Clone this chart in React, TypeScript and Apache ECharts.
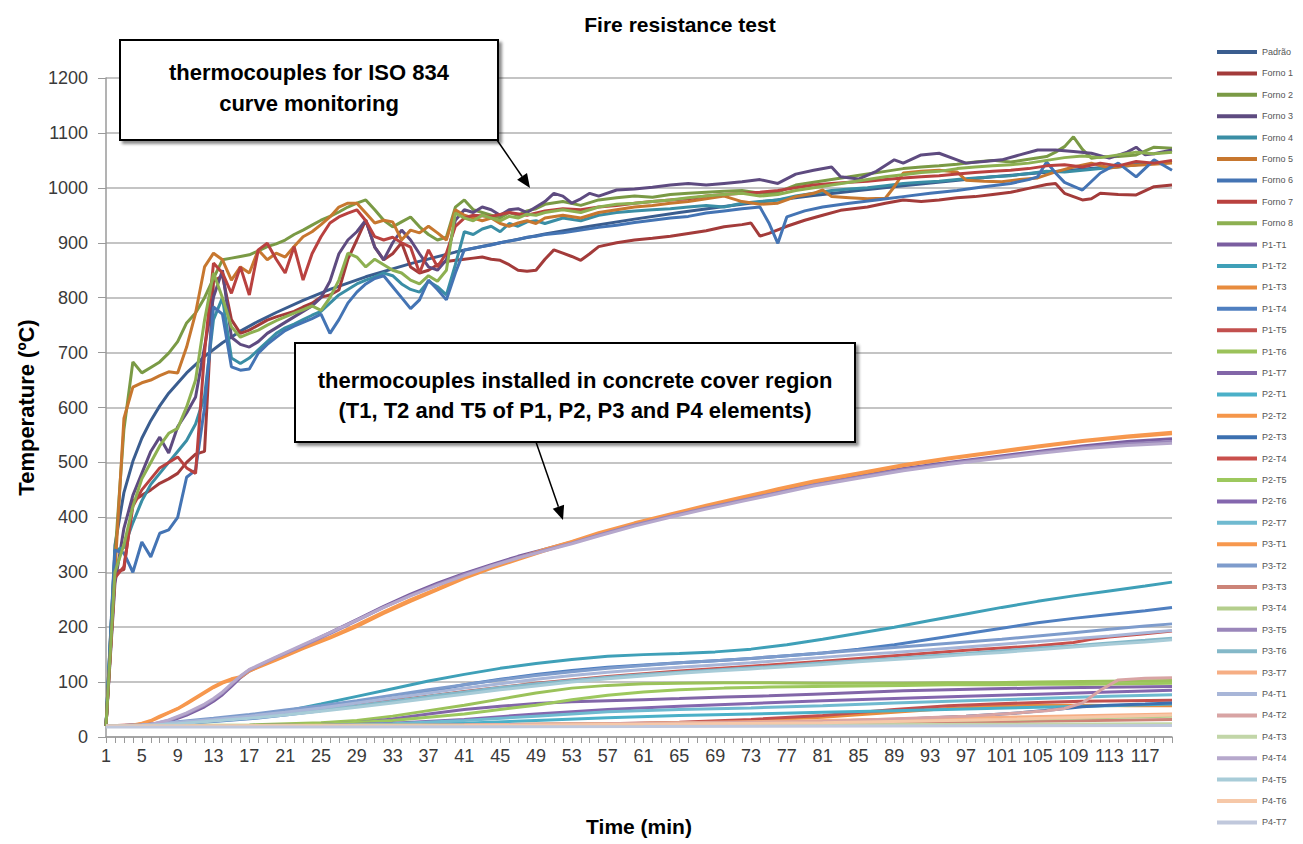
import React, { useEffect, useRef } from "react";
import * as echarts from "echarts";

type P = [number, number][];

const categories: string[] = Array.from({ length: 120 }, (_, i) => String(i + 1));

// Furnace thermocouples
const padrao: P = [[1,20],[2,349],[3,445],[4,502],[5,544],[6,576],[7,603],[8,626],[10,663],[12,693],[14,718],[16,739],[18,757],[20,773],[23,795],[26,815],[30,838],[35,862],[40,883],[45,900],[50,916],[55,930],[60,943],[65,955],[70,966],[75,976],[80,986],[85,995],[90,1004],[95,1012],[100,1020],[105,1027],[110,1034],[115,1041],[120,1047]];
const forno1: P = [[1,20],[2,300],[3,305],[4,430],[5,440],[6,450],[7,462],[8,470],[9,480],[10,500],[11,515],[12,520],[13,830],[14,840],[15,760],[16,735],[17,741],[18,750],[19,759],[20,765],[21,770],[22,775],[23,783],[24,790],[25,801],[26,805],[27,814],[28,870],[29,905],[30,941],[31,892],[32,869],[33,880],[34,900],[35,856],[36,845],[37,850],[38,860],[39,866],[40,868],[41,870],[42,872],[43,874],[44,870],[45,868],[46,860],[47,850],[48,848],[49,850],[50,870],[51,887],[52,881],[53,875],[54,868],[55,880],[56,893],[58,900],[60,905],[62,908],[64,912],[66,917],[68,922],[70,929],[72,933],[73,936],[74,912],[75,917],[77,930],[79,941],[81,950],[83,959],[86,965],[88,972],[90,978],[92,975],[94,978],[96,982],[98,984],[100,988],[102,992],[104,999],[106,1006],[107,1008],[108,990],[109,984],[110,978],[111,980],[112,990],[114,988],[116,987],[118,1002],[120,1005]];
const forno2: P = [[1,20],[2,330],[3,560],[4,683],[5,663],[6,673],[7,683],[8,699],[9,720],[10,754],[11,772],[12,800],[13,835],[14,869],[15,872],[16,875],[17,878],[18,885],[19,893],[20,898],[21,905],[22,915],[23,923],[24,932],[25,941],[26,948],[27,956],[28,965],[29,972],[30,978],[31,960],[32,941],[33,929],[34,938],[35,947],[36,929],[37,915],[38,905],[39,910],[40,965],[41,978],[42,960],[43,955],[44,950],[45,945],[46,955],[47,950],[48,958],[49,962],[50,970],[52,975],[54,968],[56,978],[58,982],[60,985],[62,983],[64,988],[66,990],[68,992],[70,994],[72,995],[74,990],[76,992],[78,1005],[80,1010],[82,1015],[84,1020],[86,1025],[88,1030],[90,1035],[92,1038],[94,1040],[96,1043],[98,1047],[100,1050],[102,1047],[104,1052],[106,1057],[107,1065],[108,1075],[109,1093],[110,1070],[111,1054],[112,1056],[114,1057],[116,1060],[118,1074],[120,1072]];
const forno3: P = [[1,20],[2,280],[3,380],[4,440],[5,480],[6,520],[7,546],[8,517],[9,565],[10,590],[11,619],[12,710],[13,801],[14,850],[15,728],[16,715],[17,710],[18,720],[19,735],[20,745],[21,755],[22,765],[23,775],[24,785],[25,800],[26,830],[27,880],[28,905],[29,920],[30,941],[31,892],[32,869],[33,900],[34,923],[35,905],[36,880],[37,856],[38,850],[39,869],[40,941],[41,960],[42,955],[43,965],[44,960],[45,950],[46,960],[47,962],[48,955],[49,965],[50,975],[51,990],[52,985],[53,972],[54,980],[55,990],[56,985],[58,996],[60,998],[62,1001],[64,1005],[66,1008],[68,1005],[70,1008],[72,1011],[74,1015],[76,1008],[78,1025],[80,1032],[82,1038],[83,1020],[85,1016],[87,1030],[89,1051],[90,1045],[92,1060],[94,1063],[96,1051],[97,1045],[99,1048],[101,1051],[103,1060],[105,1069],[107,1069],[109,1066],[111,1063],[113,1054],[115,1065],[116,1074],[117,1060],[118,1062],[120,1069]];
const forno4: P = [[1,20],[2,340],[3,345],[4,390],[5,430],[6,460],[7,480],[8,500],[9,520],[10,540],[11,570],[12,620],[13,760],[14,800],[15,690],[16,680],[17,690],[18,705],[19,720],[20,735],[21,745],[22,752],[23,760],[24,768],[25,775],[26,790],[27,805],[28,815],[29,825],[30,832],[31,838],[32,845],[33,840],[34,825],[35,815],[36,810],[37,830],[38,820],[39,805],[40,860],[41,920],[42,915],[43,925],[44,930],[45,920],[46,935],[47,930],[48,938],[49,940],[50,935],[52,945],[54,940],[56,950],[58,955],[60,958],[62,960],[64,962],[66,965],[68,968],[70,965],[72,972],[74,975],[76,978],[78,985],[80,990],[82,995],[84,998],[86,1000],[88,1004],[90,1008],[92,1010],[94,1012],[96,1015],[98,1018],[100,1020],[102,1022],[104,1026],[106,1030],[108,1029],[110,1032],[112,1035],[114,1038],[116,1042],[118,1045],[120,1047]];
const forno5: P = [[1,20],[2,300],[3,580],[4,637],[5,645],[6,650],[7,658],[8,665],[9,663],[10,710],[11,772],[12,856],[13,881],[14,869],[15,832],[16,856],[17,845],[18,887],[19,869],[20,881],[21,874],[22,893],[23,911],[24,920],[25,933],[26,947],[27,965],[28,972],[29,972],[30,954],[31,936],[32,941],[33,938],[34,905],[35,923],[36,918],[37,930],[38,918],[39,905],[40,960],[41,950],[42,945],[43,940],[44,945],[45,935],[46,930],[47,936],[48,940],[49,935],[50,945],[52,950],[54,945],[56,955],[58,960],[60,965],[62,968],[64,972],[66,975],[68,980],[70,985],[72,975],[74,970],[76,972],[78,984],[80,990],[81,996],[82,984],[84,982],[86,980],[88,981],[89,1002],[90,1027],[92,1030],[94,1032],[96,1029],[97,1014],[99,1012],[101,1011],[103,1015],[105,1018],[107,1029],[109,1038],[111,1045],[113,1036],[115,1040],[117,1042],[120,1045]];
const forno6: P = [[1,20],[2,340],[3,335],[4,300],[5,355],[6,328],[7,371],[8,377],[9,400],[10,473],[11,486],[12,600],[13,783],[14,770],[15,674],[16,668],[17,670],[18,699],[19,715],[20,728],[21,740],[22,748],[23,755],[24,762],[25,770],[26,735],[27,760],[28,790],[29,810],[30,825],[31,835],[32,840],[33,820],[34,800],[35,780],[36,796],[37,832],[38,815],[39,796],[40,845],[41,887],[42,890],[43,893],[44,896],[45,900],[46,903],[47,906],[48,910],[49,912],[50,915],[52,918],[54,923],[56,928],[58,932],[60,937],[62,941],[64,945],[66,948],[68,954],[70,958],[72,962],[74,965],[75,936],[76,899],[77,947],[79,958],[81,965],[84,972],[87,978],[90,984],[93,990],[96,995],[99,1002],[102,1008],[104,1015],[105,1020],[106,1047],[107,1027],[108,1010],[110,996],[112,1027],[114,1045],[116,1020],[118,1051],[120,1032]];
const forno7: P = [[1,20],[2,290],[3,310],[4,420],[5,450],[6,470],[7,490],[8,500],[9,510],[10,490],[11,480],[12,700],[13,863],[14,845],[15,808],[16,856],[17,805],[18,887],[19,899],[20,870],[21,845],[22,893],[23,832],[24,880],[25,911],[26,936],[27,947],[28,954],[29,960],[30,940],[31,911],[32,905],[33,910],[34,900],[35,892],[36,845],[37,887],[38,856],[39,881],[40,930],[41,945],[42,950],[44,948],[46,955],[48,950],[50,958],[52,962],[54,960],[56,965],[58,968],[60,972],[62,975],[64,978],[66,980],[68,985],[70,988],[72,990],[74,992],[76,995],[78,1000],[80,1005],[82,1008],[84,1010],[86,1012],[88,1015],[90,1018],[92,1020],[94,1022],[96,1025],[98,1028],[100,1030],[102,1032],[104,1035],[106,1040],[108,1042],[110,1038],[112,1045],[114,1040],[116,1048],[118,1045],[120,1050]];
const forno8: P = [[1,20],[2,300],[3,350],[4,420],[5,470],[6,500],[7,530],[8,553],[9,562],[10,601],[11,650],[12,759],[13,845],[14,800],[15,747],[16,728],[17,735],[18,741],[19,750],[20,758],[21,765],[22,772],[23,778],[24,785],[25,777],[26,800],[27,832],[28,881],[29,874],[30,856],[31,870],[32,860],[33,850],[34,845],[35,832],[36,825],[37,840],[38,830],[39,850],[40,954],[41,945],[42,940],[43,950],[44,945],[45,940],[46,948],[47,945],[48,952],[49,950],[50,955],[52,960],[54,955],[56,965],[58,970],[60,972],[62,975],[64,978],[66,982],[68,985],[70,988],[72,990],[74,985],[76,988],[78,995],[80,1000],[82,1005],[84,1010],[86,1015],[88,1020],[90,1024],[92,1028],[94,1030],[96,1035],[98,1038],[100,1040],[102,1042],[104,1045],[106,1050],[108,1055],[110,1058],[112,1055],[114,1060],[116,1065],[118,1062],[120,1065]];

// Element thermocouples
const p1t1: P = [[1,20],[4,20],[6,22],[8,28],[10,40],[12,55],[13,65],[14,77],[15,92],[16,108],[17,120],[20,144],[23,167],[26,190],[29,214],[32,238],[35,260],[38,280],[41,298],[44,314],[47,329],[50,342],[53,355],[56,370],[60,387],[64,403],[68,418],[72,432],[76,446],[80,460],[85,475],[90,489],[95,500],[100,510],[105,520],[110,530],[115,538],[120,543]];
const p1t2: P = [[1,20],[5,22],[9,26],[13,31],[17,38],[21,47],[25,60],[29,74],[33,88],[37,102],[41,114],[45,125],[49,134],[53,141],[57,147],[61,150],[65,152],[69,155],[73,160],[77,168],[81,178],[85,189],[89,200],[93,212],[97,224],[101,236],[105,247],[109,257],[113,266],[117,275],[120,282]];
const p1t3: P = [[1,20],[25,20],[41,21],[57,23],[65,25],[73,30],[81,36],[89,45],[95,52],[100,56],[105,58],[110,58],[115,57],[120,57]];
const p1t4: P = [[1,20],[5,21],[9,24],[13,28],[17,33],[21,40],[25,48],[29,58],[33,70],[37,83],[41,95],[45,105],[49,114],[53,121],[57,127],[61,131],[65,135],[69,139],[73,143],[77,148],[81,153],[85,160],[89,168],[93,178],[97,188],[101,198],[105,208],[109,216],[113,223],[117,230],[120,236]];
const p1t5: P = [[1,20],[25,21],[41,22],[57,24],[65,27],[73,32],[81,39],[89,50],[95,57],[100,60],[105,63],[110,65],[115,66],[120,67]];
const p1t6: P = [[1,20],[9,21],[17,22],[25,26],[29,30],[33,38],[37,48],[41,58],[45,69],[49,80],[53,89],[57,94],[61,97],[65,98],[70,99],[75,99],[80,98],[85,98],[90,98],[95,99],[100,99],[105,100],[110,101],[115,102],[120,103]];
const p1t7: P = [[1,20],[9,20],[17,21],[25,23],[29,26],[33,33],[37,42],[41,50],[45,56],[49,61],[53,64],[57,66],[61,68],[65,70],[70,73],[75,75],[80,78],[85,81],[90,84],[95,86],[100,88],[105,89],[110,90],[115,91],[120,92]];
const p2t1: P = [[1,20],[25,20],[33,22],[41,25],[49,30],[57,35],[65,39],[73,42],[81,45],[89,48],[97,51],[105,54],[113,57],[120,60]];
const p2t2: P = [[1,20],[3,20],[4,21],[5,24],[6,29],[7,36],[8,44],[9,51],[10,60],[11,70],[12,80],[13,90],[14,98],[15,104],[16,109],[17,120],[20,140],[23,161],[26,180],[29,201],[32,225],[35,247],[38,268],[41,289],[44,307],[47,323],[50,339],[53,354],[56,369],[60,388],[64,404],[68,420],[72,435],[76,450],[80,464],[85,479],[90,494],[95,506],[100,517],[105,528],[110,538],[115,546],[120,552]];
const p2t3: P = [[1,20],[25,20],[49,22],[73,26],[89,32],[97,38],[103,44],[107,50],[110,55],[113,58],[117,60],[120,62]];
const p2t4: P = [[1,20],[9,26],[17,37],[25,50],[33,66],[41,83],[49,98],[57,110],[65,120],[73,129],[81,138],[89,148],[97,158],[105,166],[109,172],[111,178],[113,182],[117,188],[120,193]];
const p2t5: P = [[1,20],[9,20],[17,21],[25,23],[33,30],[41,42],[49,58],[53,68],[57,76],[61,82],[65,86],[70,89],[75,91],[80,92],[85,93],[90,94],[95,95],[100,95],[105,96],[110,96],[115,97],[120,98]];
const p2t6: P = [[1,20],[17,20],[25,21],[33,25],[41,32],[49,42],[57,50],[65,56],[73,61],[81,66],[89,70],[97,74],[105,78],[113,82],[120,85]];
const p2t7: P = [[1,20],[17,20],[25,21],[33,24],[41,30],[49,38],[57,46],[65,50],[73,53],[81,57],[89,62],[97,66],[105,70],[113,74],[120,77]];
const p3t1: P = [[1,20],[3,20],[4,22],[5,25],[6,30],[7,38],[8,45],[9,52],[10,62],[11,72],[12,82],[13,92],[14,100],[15,106],[16,110],[17,122],[20,142],[23,164],[26,182],[29,204],[32,228],[35,250],[38,270],[41,292],[44,310],[47,326],[50,342],[53,356],[56,372],[60,390],[64,406],[68,422],[72,437],[76,452],[80,466],[85,481],[90,496],[95,508],[100,519],[105,530],[110,540],[115,548],[120,555]];
const p3t2: P = [[1,20],[5,22],[9,28],[13,34],[17,41],[21,49],[25,57],[29,66],[33,76],[37,86],[41,95],[45,104],[49,112],[53,119],[57,125],[61,130],[65,135],[69,139],[73,143],[77,148],[81,153],[85,158],[89,163],[93,168],[97,173],[101,178],[105,184],[109,190],[113,196],[117,202],[120,206]];
const p3t3: P = [[1,20],[41,21],[81,24],[101,28],[120,32]];
const p3t4: P = [[1,20],[41,22],[81,27],[101,32],[120,38]];
const p3t5: P = [[1,20],[4,20],[6,23],[8,30],[10,42],[12,58],[13,68],[14,80],[15,95],[16,110],[17,122],[20,145],[23,166],[26,188],[29,212],[32,236],[35,258],[38,278],[41,296],[44,312],[47,327],[50,340],[53,353],[56,368],[60,386],[64,402],[68,417],[72,431],[76,445],[80,459],[85,473],[90,487],[95,498],[100,508],[105,518],[110,527],[115,534],[120,538]];
const p3t6: P = [[1,20],[5,21],[9,25],[13,30],[17,36],[21,42],[25,49],[29,57],[33,65],[37,74],[41,82],[45,90],[49,97],[53,103],[57,109],[61,114],[65,118],[69,122],[73,126],[77,130],[81,135],[85,139],[89,143],[93,148],[97,152],[101,157],[105,162],[109,166],[113,171],[117,176],[120,180]];
const p3t7: P = [[1,20],[41,22],[61,25],[81,30],[101,36],[120,42]];
const p4t1: P = [[1,20],[5,22],[9,27],[13,32],[17,38],[21,45],[25,53],[29,62],[33,71],[37,80],[41,89],[45,97],[49,105],[53,112],[57,118],[61,123],[65,127],[69,131],[73,135],[77,140],[81,145],[85,150],[89,154],[93,159],[97,164],[101,169],[105,174],[109,179],[113,184],[117,190],[120,194]];
const p4t2: P = [[1,20],[33,21],[57,24],[81,28],[97,38],[103,44],[106,48],[108,52],[110,62],[112,85],[114,104],[117,107],[120,108]];
const p4t3: P = [[1,20],[61,21],[120,24]];
const p4t4: P = [[1,20],[4,20],[6,23],[8,31],[10,44],[12,60],[13,70],[14,82],[15,97],[16,111],[17,123],[20,146],[23,168],[26,190],[29,213],[32,236],[35,257],[38,276],[41,294],[44,311],[47,326],[50,339],[53,352],[56,366],[60,384],[64,400],[68,415],[72,429],[76,443],[80,457],[85,471],[90,485],[95,496],[100,506],[105,516],[110,525],[115,531],[120,535]];
const p4t5: P = [[1,20],[5,21],[9,24],[13,29],[17,34],[21,40],[25,47],[29,54],[33,62],[37,70],[41,78],[45,86],[49,93],[53,100],[57,106],[61,111],[65,116],[69,120],[73,124],[77,128],[81,132],[85,137],[89,141],[93,145],[97,150],[101,154],[105,159],[109,164],[113,169],[117,173],[120,177]];
const p4t6: P = [[1,20],[41,21],[81,26],[101,32],[120,40]];
const p4t7: P = [[1,18],[61,19],[120,21]];

const seriesNames: string[] = [
  "Padrão","Forno 1","Forno 2","Forno 3","Forno 4","Forno 5","Forno 6","Forno 7","Forno 8",
  "P1-T1","P1-T2","P1-T3","P1-T4","P1-T5","P1-T6","P1-T7",
  "P2-T1","P2-T2","P2-T3","P2-T4","P2-T5","P2-T6","P2-T7",
  "P3-T1","P3-T2","P3-T3","P3-T4","P3-T5","P3-T6","P3-T7",
  "P4-T1","P4-T2","P4-T3","P4-T4","P4-T5","P4-T6","P4-T7",
];
const seriesData: P[] = [
  padrao, forno1, forno2, forno3, forno4, forno5, forno6, forno7, forno8,
  p1t1, p1t2, p1t3, p1t4, p1t5, p1t6, p1t7,
  p2t1, p2t2, p2t3, p2t4, p2t5, p2t6, p2t7,
  p3t1, p3t2, p3t3, p3t4, p3t5, p3t6, p3t7,
  p4t1, p4t2, p4t3, p4t4, p4t5, p4t6, p4t7,
];
const seriesColors: string[] = [
  "#3A5D8F","#A33B3A","#7A9A45","#5E4B80","#3A8EA5","#C7772F","#4474B4","#B9413F","#8DB051",
  "#7A5EA0","#3FA0B8","#E88C3E","#4F7FC0","#C2504E","#9BC25A","#8266A8",
  "#4BB0C8","#F5964A","#3C70B0","#C9504C","#9DC85E","#8467AE","#6FBAD0",
  "#F7984E","#7E9CCC","#CC8478","#B4CE8C","#9A86BA","#84B8C8","#F6AE84",
  "#A8B6D8","#D8A4A4","#C2D6A8","#B6A8CC","#A8CCD8","#F6C8A8","#C0C8DC",
];

const FONT = "'Liberation Sans', Arial, sans-serif";

export default function App() {
  const ref = useRef<HTMLDivElement>(null);
  useEffect(() => {
    if (!ref.current) return;
    const chart = echarts.init(ref.current, undefined, { renderer: "svg" });
    const series = seriesNames.map((name, i) => ({
      name,
      type: "line",
      data: seriesData[i].map(([t, v]) => [String(t), v]),
      showSymbol: false,
      symbol: "none",
      lineStyle: { width: 3, color: seriesColors[i] },
      itemStyle: { color: seriesColors[i] },
      emphasis: { disabled: true },
    }));
    const arrow = (x1: number, y1: number, x2: number, y2: number) => {
      const dx = x2 - x1, dy = y2 - y1;
      const len = Math.sqrt(dx * dx + dy * dy);
      const ux = dx / len, uy = dy / len;
      const hl = 14, hw = 6;
      const bx = x2 - ux * hl, by = y2 - uy * hl;
      return [
        { type: "line", shape: { x1, y1, x2: bx, y2: by }, style: { stroke: "#000", lineWidth: 1.5 }, z: 100 },
        { type: "polygon", shape: { points: [[x2, y2], [bx - uy * hw, by + ux * hw], [bx + uy * hw, by - ux * hw]] }, style: { fill: "#000" }, z: 100 },
      ];
    };
    const boxStyle = {
      fill: "#fff", stroke: "#000", lineWidth: 2,
      shadowBlur: 3, shadowOffsetX: 3, shadowOffsetY: 3, shadowColor: "rgba(0,0,0,0.45)",
    };
    chart.setOption({
      animation: false,
      backgroundColor: "#fff",
      title: {
        text: "Fire resistance test",
        left: 675, top: 9, textAlign: "center",
        textStyle: { fontFamily: FONT, fontWeight: "bold", fontSize: 21, color: "#000" },
      },
      legend: {
        orient: "vertical", left: 1212, top: 41,
        icon: "rect", itemWidth: 40, itemHeight: 4, itemGap: 9.4,
        textStyle: { fontFamily: FONT, fontSize: 9, lineHeight: 12, color: "#555" },
        data: seriesNames,
      },
      grid: { left: 106, right: 131, top: 78, bottom: 107, containLabel: false },
      xAxis: {
        type: "category", data: categories, boundaryGap: false,
        name: "Time (min)", nameLocation: "middle", nameGap: 79,
        nameTextStyle: { fontFamily: FONT, fontWeight: "bold", fontSize: 21, color: "#000" },
        axisLine: { lineStyle: { color: "#9a9a9a", width: 1.5 } },
        axisTick: { interval: 0, length: 6, lineStyle: { color: "#9a9a9a" } },
        axisLabel: { interval: 3, fontFamily: FONT, fontSize: 18, color: "#3a3a3a", margin: 10 },
        splitLine: { show: false },
      },
      yAxis: {
        type: "value", min: 0, max: 1200, interval: 100,
        name: "Temperature (ºC)", nameLocation: "middle", nameGap: 68, nameRotate: 90,
        nameTextStyle: { fontFamily: FONT, fontWeight: "bold", fontSize: 22, color: "#000" },
        axisLine: { show: true, lineStyle: { color: "#9a9a9a", width: 1.5 } },
        axisTick: { show: true, length: 8, lineStyle: { color: "#9a9a9a" } },
        axisLabel: { fontFamily: FONT, fontSize: 18, color: "#3a3a3a", margin: 18, formatter: (v: number) => String(v) },
        splitLine: { lineStyle: { color: "#c4c4c4", width: 2 } },
      },
      series,
      graphic: [
        { type: "rect", shape: { x: 120, y: 40, width: 378, height: 100 }, style: boxStyle, z: 100 },
        {
          type: "text", x: 309, y: 88, z: 101,
          style: { text: "thermocouples for ISO 834\ncurve monitoring", align: "center", verticalAlign: "middle", font: `bold 22px ${FONT}`, lineHeight: 31, fill: "#000" },
        },
        ...arrow(497, 140, 530, 188),
        { type: "rect", shape: { x: 295, y: 343, width: 560, height: 99 }, style: boxStyle, z: 100 },
        {
          type: "text", x: 575, y: 395, z: 101,
          style: { text: "thermocouples installed in concrete cover region\n(T1, T2 and T5 of P1, P2, P3 and P4 elements)", align: "center", verticalAlign: "middle", font: `bold 22px ${FONT}`, lineHeight: 30, fill: "#000" },
        },
        ...arrow(536, 442, 563, 520),
      ],
    });
    return () => chart.dispose();
  }, []);
  return <div ref={ref} style={{ position: "fixed", left: 0, top: 0, width: 1303, height: 844, background: "#fff" }} />;
}
